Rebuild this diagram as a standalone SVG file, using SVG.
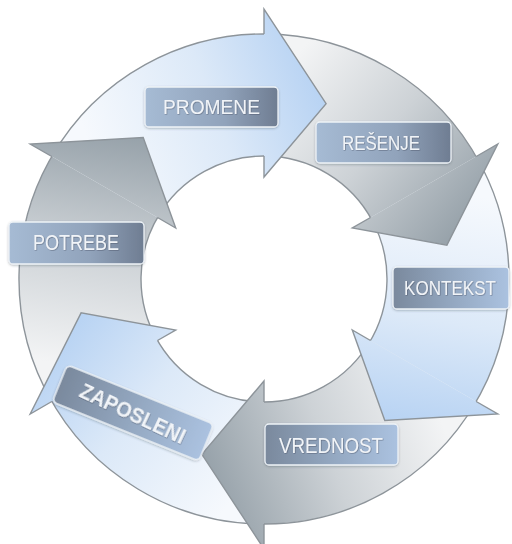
<svg xmlns="http://www.w3.org/2000/svg" width="512" height="544" viewBox="0 0 512 544">
  <defs>
    <!-- arrow fills: pale at the tail, saturated towards the head -->
    <linearGradient id="blueFill">
      <stop offset="0" stop-color="#f6f9fd"/>
      <stop offset="0.55" stop-color="#dce9f8"/>
      <stop offset="1" stop-color="#b8d3f3"/>
    </linearGradient>
    <linearGradient id="grayFill">
      <stop offset="0" stop-color="#f3f4f5"/>
      <stop offset="0.5" stop-color="#cdd2d6"/>
      <stop offset="1" stop-color="#97a2aa"/>
    </linearGradient>
    <linearGradient id="gPot" href="#grayFill" gradientUnits="userSpaceOnUse" x1="105" y1="371" x2="143" y2="138"/>
    <linearGradient id="gPro" href="#blueFill" gradientUnits="userSpaceOnUse" x1="105" y1="187" x2="326" y2="104"/>
    <linearGradient id="gRes" href="#grayFill" gradientUnits="userSpaceOnUse" x1="264" y1="95" x2="447" y2="245"/>
    <linearGradient id="gKon" href="#blueFill" gradientUnits="userSpaceOnUse" x1="423" y1="187" x2="385" y2="420"/>
    <linearGradient id="gVre" href="#grayFill" gradientUnits="userSpaceOnUse" x1="423" y1="371" x2="202" y2="454"/>
    <linearGradient id="gZap" href="#blueFill" gradientUnits="userSpaceOnUse" x1="264" y1="463" x2="81" y2="313"/>

    <!-- label plates -->
    <linearGradient id="plateLightLeft" x1="0" y1="0" x2="1" y2="0">
      <stop offset="0" stop-color="#a6bbd4"/>
      <stop offset="0.6" stop-color="#91a3bb"/>
      <stop offset="1" stop-color="#6f7d92"/>
    </linearGradient>
    <linearGradient id="plateDarkLeft" x1="0" y1="0" x2="1" y2="0">
      <stop offset="0" stop-color="#7a899d"/>
      <stop offset="0.5" stop-color="#93a7c0"/>
      <stop offset="1" stop-color="#abc2e0"/>
    </linearGradient>

    <filter id="plateShadow" x="-10%" y="-30%" width="120%" height="160%">
      <feDropShadow dx="0" dy="1" stdDeviation="1.2" flood-color="#3c4652" flood-opacity="0.35"/>
    </filter>
    <filter id="textShadow" x="-5%" y="-20%" width="110%" height="140%">
      <feDropShadow dx="0.6" dy="0.6" stdDeviation="0.5" flood-color="#3f4a5a" flood-opacity="0.6"/>
    </filter>
  </defs>

  <style>
    .edge { fill: none; stroke: #8d949a; stroke-width: 1.4; stroke-linejoin: miter; }
    .plate { stroke: #eef3f8; stroke-width: 1.3; filter: url(#plateShadow); }
    .label { font-family: "Liberation Sans Narrow", "Liberation Sans", Arial, sans-serif; fill: #f1f4f8; text-anchor: middle; filter: url(#textShadow); }
  </style>

  <rect width="512" height="544" fill="#ffffff"/>

  <!-- ring segments (arrow shafts); every head below sits on the next shaft's tail -->
  <g id="segments">
    <path d="M51.8,401.5 A245,245 0 0 1 56.2,149.2 L159.7,213.8 A123,123 0 0 0 157.5,340.5 Z" fill="url(#gPot)"/>
    <path class="edge" d="M51.8,401.5 A245,245 0 0 1 56.2,149.2 M159.7,213.8 A123,123 0 0 0 157.5,340.5"/>

    <path d="M51.8,156.5 A245,245 0 0 1 272.6,34.1 L268.3,156.1 A123,123 0 0 0 157.5,217.5 Z" fill="url(#gPro)"/>
    <path class="edge" d="M51.8,156.5 A245,245 0 0 1 272.6,34.1 M268.3,156.1 A123,123 0 0 0 157.5,217.5"/>

    <path d="M264,34 A245,245 0 0 1 480.3,164 L372.6,221.3 A123,123 0 0 0 264,156 Z" fill="url(#gRes)"/>
    <path class="edge" d="M264,34 A245,245 0 0 1 480.3,164 M372.6,221.3 A123,123 0 0 0 264,156"/>

    <path d="M476.2,156.5 A245,245 0 0 1 471.8,408.8 L368.3,344.2 A123,123 0 0 0 370.5,217.5 Z" fill="url(#gKon)"/>
    <path class="edge" d="M476.2,156.5 A245,245 0 0 1 471.8,408.8 M368.3,344.2 A123,123 0 0 0 370.5,217.5"/>

    <path d="M476.2,401.5 A245,245 0 0 1 255.4,523.9 L259.7,401.9 A123,123 0 0 0 370.5,340.5 Z" fill="url(#gVre)"/>
    <path class="edge" d="M476.2,401.5 A245,245 0 0 1 255.4,523.9 M259.7,401.9 A123,123 0 0 0 370.5,340.5"/>

    <path d="M264,524 A245,245 0 0 1 47.7,394 L155.4,336.7 A123,123 0 0 0 264,402 Z" fill="url(#gZap)"/>
    <path class="edge" d="M264,524 A245,245 0 0 1 47.7,394 M155.4,336.7 A123,123 0 0 0 264,402"/>
  </g>

  <!-- POTREBE -->
  <g id="potrebe">
    <path d="M30.2,144 L143.2,137.6 L175.7,228 Z" fill="url(#gPot)"/>
    <path class="edge" d="M51.8,156.5 L30.2,144 L143.2,137.6 L175.7,228 L157.5,217.5"/>
    <rect class="plate" x="9" y="222" width="135" height="42" rx="4" fill="url(#plateLightLeft)"/>
    <text class="label" x="76" y="250" font-size="22" textLength="86" lengthAdjust="spacingAndGlyphs">POTREBE</text>
  </g>

  <!-- PROMENE -->
  <g id="promene">
    <path d="M264,9 L326.1,103.7 L264,177 Z" fill="url(#gPro)"/>
    <path class="edge" d="M264,34 L264,9 L326.1,103.7 L264,177 L264,156"/>
    <rect class="plate" x="145" y="87" width="133" height="40" rx="4" fill="url(#plateLightLeft)"/>
    <text class="label" x="211.5" y="114" font-size="21" textLength="97" lengthAdjust="spacingAndGlyphs">PROMENE</text>
  </g>

  <!-- REŠENJE -->
  <g id="resenje">
    <path d="M497.8,144 L446.9,245.1 L352.3,228 Z" fill="url(#gRes)"/>
    <path class="edge" d="M476.2,156.5 L497.8,144 L446.9,245.1 L352.3,228 L370.5,217.5"/>
    <rect class="plate" x="316" y="122" width="135" height="41" rx="4" fill="url(#plateLightLeft)"/>
    <text class="label" x="381" y="150" font-size="21" textLength="78" lengthAdjust="spacingAndGlyphs">REŠENJE</text>
  </g>

  <!-- KONTEKST -->
  <g id="kontekst">
    <path d="M497.8,414 L384.8,420.4 L352.3,330 Z" fill="url(#gKon)"/>
    <path class="edge" d="M476.2,401.5 L497.8,414 L384.8,420.4 L352.3,330 L370.5,340.5"/>
    <rect class="plate" x="393" y="267" width="116" height="42" rx="4" fill="url(#plateDarkLeft)"/>
    <text class="label" x="450" y="295" font-size="21" textLength="92" lengthAdjust="spacingAndGlyphs">KONTEKST</text>
  </g>

  <!-- VREDNOST -->
  <g id="vrednost">
    <path d="M264,549 L201.9,454.3 L264,381 Z" fill="url(#gVre)"/>
    <path class="edge" d="M264,524 L264,549 L201.9,454.3 L264,381 L264,402"/>
    <rect class="plate" x="265" y="424" width="133" height="41" rx="4" fill="url(#plateDarkLeft)"/>
    <text class="label" x="331" y="453" font-size="22" textLength="104" lengthAdjust="spacingAndGlyphs">VREDNOST</text>
  </g>

  <!-- ZAPOSLENI -->
  <g id="zaposleni">
    <path d="M30.2,414 L81.1,312.9 L175.7,330 Z" fill="url(#gZap)"/>
    <path class="edge" d="M51.8,401.5 L30.2,414 L81.1,312.9 L175.7,330 L157.5,340.5"/>
    <g transform="translate(133,413) rotate(22)">
      <rect class="plate" x="-79" y="-20" width="158" height="40" rx="5" fill="url(#plateDarkLeft)"/>
      <text class="label" x="0" y="8" font-size="22" font-weight="bold" transform="rotate(3)" textLength="114" lengthAdjust="spacingAndGlyphs">ZAPOSLENI</text>
    </g>
  </g>
</svg>
